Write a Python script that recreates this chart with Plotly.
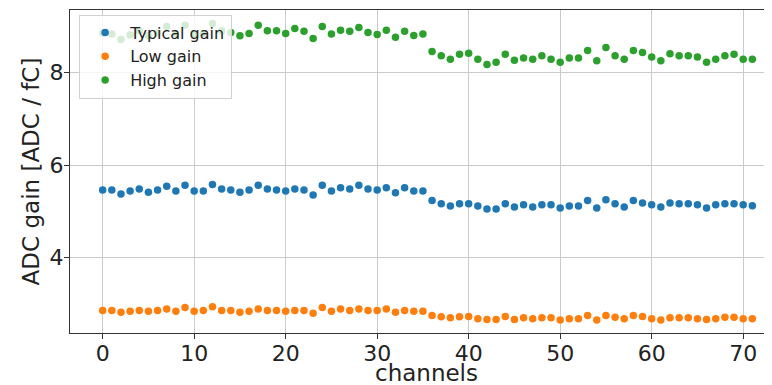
import plotly.graph_objects as go

channels = list(range(72))

typical_gain = [5.46, 5.46, 5.37, 5.44, 5.48, 5.41, 5.46, 5.54, 5.44, 5.56,
                5.44, 5.44, 5.58, 5.48, 5.46, 5.41, 5.46, 5.56, 5.48, 5.46,
                5.44, 5.48, 5.46, 5.35, 5.56, 5.44, 5.51, 5.48, 5.56, 5.48,
                5.46, 5.51, 5.40, 5.51, 5.44, 5.44, 5.23, 5.16, 5.11, 5.16,
                5.16, 5.11, 5.05, 5.05, 5.16, 5.09, 5.14, 5.09, 5.14, 5.14,
                5.07, 5.11, 5.11, 5.23, 5.07, 5.25, 5.16, 5.09, 5.23, 5.18,
                5.14, 5.09, 5.18, 5.16, 5.16, 5.14, 5.07, 5.14, 5.16, 5.16,
                5.14, 5.12]

low_gain = [2.85, 2.85, 2.81, 2.83, 2.85, 2.83, 2.85, 2.88, 2.83, 2.91,
            2.83, 2.85, 2.93, 2.85, 2.85, 2.81, 2.83, 2.88, 2.85, 2.85,
            2.83, 2.85, 2.85, 2.79, 2.91, 2.83, 2.88, 2.85, 2.88, 2.85,
            2.85, 2.88, 2.81, 2.85, 2.83, 2.83, 2.74, 2.71, 2.69, 2.71,
            2.72, 2.67, 2.65, 2.65, 2.72, 2.65, 2.69, 2.67, 2.69, 2.69,
            2.64, 2.67, 2.67, 2.74, 2.64, 2.74, 2.70, 2.67, 2.74, 2.72,
            2.67, 2.64, 2.69, 2.69, 2.69, 2.67, 2.65, 2.67, 2.70, 2.70,
            2.67, 2.67]

high_gain = [8.86, 8.84, 8.72, 8.82, 8.91, 8.80, 8.86, 9.00, 8.84, 9.03,
             8.84, 8.84, 9.07, 8.91, 8.87, 8.80, 8.85, 9.03, 8.91, 8.91,
             8.85, 8.96, 8.90, 8.74, 9.00, 8.84, 8.92, 8.90, 8.98, 8.87,
             8.83, 8.92, 8.77, 8.90, 8.81, 8.84, 8.46, 8.37, 8.29, 8.40,
             8.42, 8.29, 8.18, 8.23, 8.40, 8.27, 8.32, 8.29, 8.37, 8.29,
             8.23, 8.32, 8.32, 8.48, 8.26, 8.55, 8.37, 8.29, 8.48, 8.44,
             8.34, 8.26, 8.41, 8.37, 8.37, 8.34, 8.23, 8.29, 8.37, 8.40,
             8.29, 8.29]

series = [
    ("Typical gain", typical_gain, "#1f77b4"),
    ("Low gain", low_gain, "#ff7f0e"),
    ("High gain", high_gain, "#2ca02c"),
]

fig = go.Figure()
for i, (name, vals, color) in enumerate(series):
    fig.add_trace(go.Scatter(
        x=channels, y=vals, mode="markers", name=name,
        legendgroup=f"g{i}",
        marker=dict(color=color, size=7.5),
    ))

font_family = "DejaVu Sans"
fig.update_layout(
    width=764, height=377,
    margin=dict(l=62, r=0, t=2, b=52),
    plot_bgcolor="white", paper_bgcolor="white",
    font=dict(family=font_family, color="#222"),
    showlegend=True,
    legend=dict(
        x=0.013, y=0.986, xanchor="left", yanchor="top",
        bgcolor="rgba(255,255,255,0.8)", bordercolor="#d0d0d0", borderwidth=1,
        font=dict(size=16, family=font_family, color="#222"),
        itemwidth=40, tracegroupgap=0, traceorder="grouped",
    ),
    xaxis=dict(
        range=[-3.57, 73.15], tickmode="array", tickvals=[0, 10, 20, 30, 40, 50, 60, 70],
        showgrid=True, gridcolor="#cbcbcb", gridwidth=1,
        showline=True, linecolor="#333", linewidth=1, mirror=True,
        ticks="outside", ticklen=5, tickcolor="#333",
        tickfont=dict(size=22, family=font_family, color="#222"),
        ticklabelstandoff=-4,
        zeroline=False, automargin=False,
    ),
    yaxis=dict(
        range=[2.36, 9.36], tickmode="array", tickvals=[4, 6, 8],
        showgrid=True, gridcolor="#cbcbcb", gridwidth=1,
        showline=True, linecolor="#333", linewidth=1,
        ticks="outside", ticklen=5, tickcolor="#333",
        tickfont=dict(size=22, family=font_family, color="#222"),
        ticklabelstandoff=-4,
        title=dict(text="ADC gain [ADC / fC]", font=dict(size=23, family=font_family, color="#222"), standoff=3),
        zeroline=False, automargin=False,
    ),
    annotations=[
        dict(text="channels", xref="paper", yref="paper", x=0.5085, y=-0.125,
             xanchor="center", yanchor="middle", showarrow=False,
             font=dict(size=23, family=font_family, color="#222")),
    ],
)

fig.write_html("out.html")
